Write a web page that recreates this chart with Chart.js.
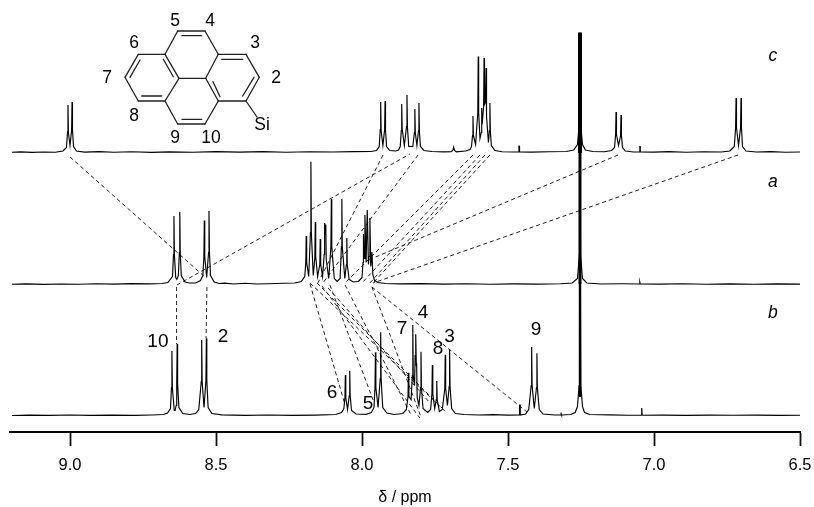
<!DOCTYPE html>
<html><head><meta charset="utf-8">
<style>html,body{margin:0;padding:0;background:#fff}#w{width:814px;height:507px;position:relative}</style>
<script src="https://cdn.jsdelivr.net/npm/chart.js@4/dist/chart.umd.min.js"></script>
</head><body><div id="w"><canvas id="c" width="814" height="507"></canvas></div>
<script>
const tickValues=[9.0,8.5,8.0,7.5,7.0,6.5];
const baselineC=279.5, baselineA=147.5, baselineB=16.5;
const spectrumC=[[9.199,0.2],[9.17,0.6],[9.13,0.1],[9.09,0.5],[9.05,0.3],[9.024,1.5],[9.012,5],[9.0085,21],[9.007,47.5],[9.0055,20],[9.0,7],[8.9945,22],[8.993,50.5],[8.9915,23],[8.988,6],[8.978,1.5],[8.95,0.4],[8.90,0.8],[8.85,0.3],[8.79,0.7],[8.72,0.2],[8.66,0.6],[8.58,0.3],[8.50,0.9],[8.42,0.4],[8.34,0.8],[8.26,0.3],[8.18,0.7],[8.10,0.5],[8.03,0.9],[7.97,1],[7.950,2],[7.941,6],[7.9375,23],[7.936,50.5],[7.9345,22],[7.9285,7],[7.9225,23],[7.921,51.5],[7.9195,23],[7.916,6],[7.905,2],[7.885,1.5],[7.875,2.5],[7.869,6],[7.8655,22],[7.864,48.5],[7.8625,24],[7.855,7],[7.8475,26],[7.846,57.5],[7.8445,26],[7.84,6],[7.826,6],[7.8205,20],[7.819,43.5],[7.8175,20],[7.812,7],[7.8065,22],[7.805,49.5],[7.8035,22],[7.8,6],[7.788,2],[7.76,1],[7.72,0.7],[7.695,0.8],[7.689,2],[7.686,5.5],[7.683,2],[7.677,0.7],[7.645,1.5],[7.630,3],[7.625,6],[7.6215,17],[7.620,36.5],[7.6185,17],[7.611,8],[7.6035,40],[7.602,96],[7.6005,40],[7.596,14],[7.5915,20],[7.590,44.5],[7.5885,28],[7.5835,46],[7.582,94.5],[7.5805,48],[7.5775,50],[7.575,84.5],[7.5735,36],[7.567,10],[7.5635,22],[7.562,49.5],[7.5605,22],[7.557,7],[7.545,2],[7.52,0.8],[7.48,0.5],[7.4635,0.6],[7.4625,6.5],[7.4615,6.5],[7.4605,0.6],[7.42,0.4],[7.36,0.8],[7.30,1],[7.275,2.5],[7.262,8],[7.2555,30],[7.2535,120],[7.2515,30],[7.245,8],[7.235,2.5],[7.21,1],[7.17,0.8],[7.145,2],[7.135,5],[7.1315,18],[7.130,40.5],[7.1285,18],[7.1215,7],[7.1145,17],[7.113,37.5],[7.1115,17],[7.108,5],[7.098,1.5],[7.07,0.5],[7.049,0.6],[7.0485,6],[7.0475,6],[7.047,0.6],[7.0,0.4],[6.95,0.8],[6.89,0.3],[6.83,0.7],[6.77,0.5],[6.74,1.5],[6.725,6],[6.7205,25],[6.719,54.5],[6.7175,25],[6.7105,7],[6.7035,25],[6.702,54.5],[6.7005,25],[6.697,6],[6.685,1.5],[6.65,0.5],[6.6,0.8],[6.55,0.3],[6.5,0.5]];
const spectrumA=[[9.199,0.3],[9.15,0.6],[9.09,0.2],[9.03,0.5],[8.97,0.3],[8.91,0.7],[8.85,0.4],[8.79,0.8],[8.73,0.6],[8.685,1],[8.665,2],[8.649,8],[8.6455,30],[8.644,68.5],[8.6425,30],[8.638,7],[8.634,5],[8.629,9],[8.6255,32],[8.624,72.5],[8.6225,32],[8.619,9],[8.606,2.5],[8.59,1.5],[8.57,1.5],[8.553,4],[8.545,9],[8.5415,28],[8.540,64],[8.5385,28],[8.532,7],[8.5255,32],[8.524,73.5],[8.5225,33],[8.519,9],[8.506,2.5],[8.49,1],[8.47,1.4],[8.44,0.5],[8.40,1.2],[8.36,0.5],[8.32,0.8],[8.27,1.2],[8.23,1.5],[8.208,3],[8.196,8],[8.1925,22],[8.191,48.5],[8.1895,22],[8.1825,8],[8.1765,52],[8.175,122.8],[8.1735,52],[8.167,9],[8.1615,27],[8.160,62.5],[8.1585,28],[8.152,8],[8.1445,20],[8.143,45.5],[8.1415,20],[8.135,8],[8.1295,30],[8.128,61.5],[8.126,50],[8.124,60],[8.1225,25],[8.114,6],[8.1065,38],[8.105,85.5],[8.1035,38],[8.095,6],[8.085,3],[8.075,6],[8.0705,38],[8.069,85.5],[8.0675,38],[8.059,6],[8.0535,20],[8.052,46.5],[8.0505,20],[8.044,5],[8.03,2.5],[8.012,3],[8.0,7],[7.9965,22],[7.995,50.5],[7.993,26],[7.990,69.5],[7.986,22],[7.982,74.5],[7.978,20],[7.9755,28],[7.973,66.5],[7.970,18],[7.966,32.5],[7.963,10],[7.957,4],[7.945,2],[7.92,1],[7.87,0.6],[7.80,0.8],[7.72,0.4],[7.64,0.7],[7.56,0.3],[7.48,0.6],[7.40,0.4],[7.32,0.7],[7.28,1.5],[7.262,6],[7.2555,30],[7.2535,131],[7.2515,30],[7.245,6],[7.23,1.5],[7.18,0.5],[7.11,0.7],[7.05,0.5],[7.0485,2.5],[7.047,0.5],[6.98,0.4],[6.90,0.7],[6.82,0.3],[6.74,0.6],[6.66,0.3],[6.58,0.6],[6.5,0.3]];
const spectrumB=[[9.199,0],[9.14,0.4],[9.07,0.1],[9.0,0.5],[8.93,0.2],[8.86,0.4],[8.78,0.1],[8.72,0.5],[8.68,1],[8.666,2.5],[8.656,7],[8.6525,28],[8.651,64.5],[8.6495,28],[8.643,5],[8.640,5],[8.6365,10],[8.6345,32],[8.633,71.5],[8.6315,32],[8.627,8],[8.614,2],[8.59,1],[8.57,2],[8.559,6],[8.5505,34],[8.549,75.5],[8.5475,34],[8.541,8],[8.5345,35],[8.533,77.2],[8.5315,35],[8.527,8],[8.514,2],[8.48,0.6],[8.40,0.2],[8.32,0.5],[8.24,0.1],[8.16,0.4],[8.09,1],[8.07,3],[8.062,7],[8.0585,18],[8.057,40.5],[8.0555,18],[8.0495,6],[8.0435,20],[8.042,44.8],[8.0405,20],[8.036,5],[8.02,1.5],[7.985,1.2],[7.968,3],[7.959,8],[7.9555,28],[7.954,63.2],[7.9525,28],[7.945,8],[7.9375,37],[7.936,83.2],[7.9345,37],[7.929,8],[7.915,2.5],[7.89,1],[7.86,2],[7.848,6],[7.8425,19],[7.841,42.8],[7.8395,19],[7.832,16],[7.8275,40],[7.826,90.5],[7.8245,40],[7.820,30],[7.818,60],[7.816,81.2],[7.814,50],[7.813,52.8],[7.811,18],[7.805,10],[7.7995,28],[7.798,63.8],[7.7965,28],[7.791,7],[7.775,3],[7.765,6],[7.7605,22],[7.759,50.5],[7.7575,22],[7.751,7],[7.7455,16],[7.744,34.5],[7.7425,16],[7.735,4],[7.725,6],[7.7165,27],[7.715,60.8],[7.7135,27],[7.7075,10],[7.7015,29],[7.700,65.5],[7.6985,29],[7.693,7],[7.68,2],[7.65,1],[7.60,0.5],[7.55,0.8],[7.50,0.4],[7.461,0.5],[7.4605,10.5],[7.4585,10.5],[7.458,0.5],[7.44,1.5],[7.429,6],[7.4205,30],[7.419,68.5],[7.4175,30],[7.410,7],[7.4025,28],[7.401,62.2],[7.3995,28],[7.393,6],[7.38,1.5],[7.34,0.5],[7.319,0.5],[7.318,1.8],[7.3165,0.5],[7.285,1],[7.27,3],[7.262,9],[7.2565,30],[7.2535,262],[7.2505,30],[7.245,9],[7.238,3],[7.22,1],[7.15,0.6],[7.09,0.3],[7.0435,0.3],[7.0425,7.5],[7.0415,7.5],[7.0405,0.3],[6.97,0.4],[6.89,0.1],[6.81,0.4],[6.73,0.2],[6.65,0.4],[6.57,0.1],[6.5,0.3]];
const solventPpm=7.2535;
const solventFrom=[279,148,35];
const solventTo=[399.5,280,150];
const solventWeight=[4,3,2.4];
const connectorsCA=[[9.0,275,8.538,155],[8.634,147,7.836,278],[7.928,277,8.151,149],[7.808,277,8.134,149],[7.620,277,8.058,149],[7.596,277,8.0,149],[7.579,277,7.973,149],[7.562,277,7.962,149],[7.123,277,7.986,171],[6.712,277,7.962,149]];
const connectorsAB=[[8.635,145,8.635,88],[8.531,145,8.534,94],[8.178,148,8.058,27],[8.110,147,7.962,32],[8.058,147,7.830,16],[7.966,145,7.798,15],[7.966,145,7.435,20],[8.178,149,7.709,19],[8.154,149,7.726,24],[8.116,144,7.767,29],[8.137,146,7.802,14]];
const peakLabels=[["10",8.699,90],["2",8.476,95],["6",8.103,39],["5",7.979,28],["7",7.863,103],["4",7.791,119],["8",7.74,83],["3",7.70,95],["9",7.404,102]];
const traceLabels=[["c",6.593,376],["a",6.593,250],["b",6.593,119]];

function mk(pts,base){return {data:pts.map(p=>({x:p[0],y:p[1]+base})),borderColor:'#000',borderWidth:1.15,pointRadius:0,tension:0,fill:false,order:1};}
function dash(c){return {data:[{x:c[0],y:c[1]},{x:c[2],y:c[3]}],borderColor:'#222',borderWidth:1,borderDash:[4,3],pointRadius:0,tension:0,fill:false,order:2};}
function solvent(_,i){return {data:[{x:solventPpm,y:solventFrom[i]},{x:solventPpm,y:solventTo[i]}],borderColor:'#000',borderWidth:solventWeight[i],pointRadius:0,tension:0,fill:false,order:0};}

const moleculeBonds=[[177.7,31,205,31],[205,31,218.3,54.3],[218.3,54.3,246,54.3],[246,54.3,259.3,77.3],[259.3,77.3,246,101],[246,101,218.3,101],[218.3,101,205,124],[205,124,177.7,124],[177.7,124,165,101],[165,101,138.3,101],[138.3,101,125,77.3],[125,77.3,138.3,54.3],[138.3,54.3,165,54.3],[165,54.3,177.7,31],[165,54.3,179,78.3],[165,101,179,78.3],[179,78.3,205.7,78.3],[205.7,78.3,218.3,54.3],[205.7,78.3,218.3,101],[182,35.7,201.7,35.7],[221.7,59.3,242.7,59.3],[242.7,96,254,77.3],[213,81.7,220,96.7],[182,119.3,201.7,119.3],[141.7,96,161.7,96],[130,77.3,140,60],[163.3,59.3,173.3,76.7],[246,101,257,117]];
const moleculeText=[["5",175,21],["4",210,21],["3",255,43],["2",276,78],["6",134,43],["7",107,78],["8",134,116],["9",175,138],["10",211,138],["Si",262,125]];

const overlay={id:'overlay',afterDatasetsDraw(ch){
  const g=ch.ctx,X=ch.scales.x,Y=ch.scales.y;
  g.save();g.strokeStyle='#222';g.lineWidth=1.3;g.lineCap='round';
  moleculeBonds.forEach(b=>{g.beginPath();g.moveTo(b[0],b[1]);g.lineTo(b[2],b[3]);g.stroke();});
  g.fillStyle='#000';g.textAlign='center';g.textBaseline='middle';
  g.font='17.5px "Liberation Sans"';
  moleculeText.forEach(t=>g.fillText(t[0],t[1],t[2]));
  g.font='19px "Liberation Sans"';
  peakLabels.forEach(t=>g.fillText(t[0],X.getPixelForValue(t[1]),Y.getPixelForValue(t[2])));
  g.font='italic 17.5px "Liberation Sans"';
  traceLabels.forEach(t=>g.fillText(t[0],X.getPixelForValue(t[1]),Y.getPixelForValue(t[2])));
  g.restore();
}};

new Chart(document.getElementById('c'),{
  type:'line',
  data:{datasets:[mk(spectrumC,baselineC),mk(spectrumA,baselineA),mk(spectrumB,baselineB),...solventFrom.map(solvent),...connectorsCA.map(dash),...connectorsAB.map(dash)]},
  options:{
    responsive:false,animation:false,parsing:true,
    layout:{padding:{left:10,right:14,top:0,bottom:0}},
    plugins:{legend:{display:false},tooltip:{enabled:false},title:{display:false}},
    scales:{
      x:{type:'linear',reverse:true,min:6.5,max:9.2055,
        afterBuildTicks:s=>{s.ticks=tickValues.map(v=>({value:v}));},
        afterFit:s=>{s.height=75;s.paddingLeft=0;s.paddingRight=0;},
        border:{display:true,color:'#000',width:2},
        grid:{display:true,drawOnChartArea:false,drawTicks:true,tickLength:14,tickWidth:1.8,tickColor:'#111',offset:false},
        ticks:{autoSkip:false,maxRotation:0,padding:10,color:'#000',font:{family:'"Liberation Sans"',size:16.5},callback:v=>Number(v).toFixed(1)},
        title:{display:true,text:'δ / ppm',color:'#000',font:{family:'"Liberation Sans"',size:16},padding:{top:11,bottom:0}}
      },
      y:{type:'linear',display:false,min:0,max:432}
    }
  },
  plugins:[overlay]
});
</script></body></html>
